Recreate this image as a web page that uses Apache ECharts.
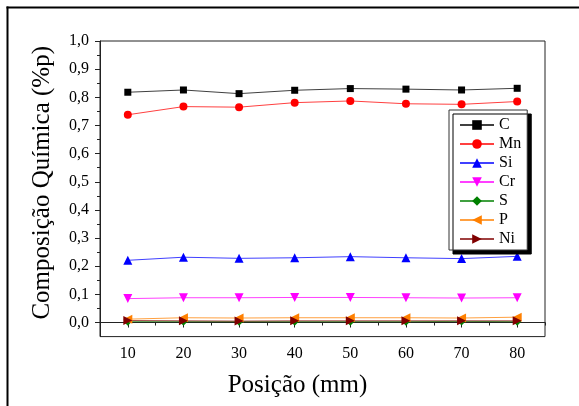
<!DOCTYPE html>
<html>
<head>
<meta charset="utf-8">
<script src="https://cdn.jsdelivr.net/npm/echarts@6/dist/echarts.min.js"></script>
<style>html,body{margin:0;padding:0;background:#fff;}#chart{width:579px;height:406px;}</style>
</head>
<body>
<div id="chart"></div>
<script>
// ---- data ----
const positions = [10, 20, 30, 40, 50, 60, 70, 80];
const C  = [0.818, 0.826, 0.813, 0.825, 0.831, 0.829, 0.826, 0.832];
const Mn = [0.738, 0.767, 0.765, 0.781, 0.787, 0.777, 0.775, 0.785];
const Si = [0.221, 0.232, 0.228, 0.230, 0.234, 0.230, 0.227, 0.235];
const Cr = [0.085, 0.088, 0.088, 0.089, 0.089, 0.088, 0.087, 0.088];
const S  = [0.003, 0.003, 0.003, 0.003, 0.003, 0.003, 0.004, 0.003];
const P  = [0.012, 0.017, 0.016, 0.017, 0.017, 0.017, 0.016, 0.019];
const Ni = [0.007, 0.006, 0.005, 0.006, 0.006, 0.006, 0.006, 0.006];
const seriesNames = ['C', 'Mn', 'Si', 'Cr', 'S', 'P', 'Ni'];
const yTicks = [0.0, 0.1, 0.2, 0.3, 0.4, 0.5, 0.6, 0.7, 0.8, 0.9, 1.0];
const yMinorTicks = [0.05, 0.15, 0.25, 0.35, 0.45, 0.55, 0.65, 0.75, 0.85, 0.95];
const xTicks = [10, 20, 30, 40, 50, 60, 70, 80];
const xMinorTicks = [5, 15, 25, 35, 45, 55, 65, 75, 85];
const xTitle = 'Posição (mm)';
const yTitle = 'Composição Química (%p)';

const FONT = 'Liberation Serif';
const styles = {
  C:  {color: '#000000', symbol: 'rect', size: 7, rotate: 0},
  Mn: {color: '#ff0000', symbol: 'circle', size: 8, rotate: 0},
  Si: {color: '#0000ff', symbol: 'triangle', size: 9, rotate: 0},
  Cr: {color: '#ff00ff', symbol: 'triangle', size: 9, rotate: 180},
  S:  {color: '#008000', symbol: 'diamond', size: 8, rotate: 0},
  P:  {color: '#ff8000', symbol: 'triangle', size: 9, rotate: 90},
  Ni: {color: '#800000', symbol: 'triangle', size: 9, rotate: -90}
};
const values = {C, Mn, Si, Cr, S, P, Ni};

const chart = echarts.init(document.getElementById('chart'), null, {renderer: 'canvas'});

const series = seriesNames.map(n => ({
  name: n,
  type: 'line',
  xAxisIndex: 0,
  yAxisIndex: 0,
  data: positions.map((x, i) => [x, values[n][i]]),
  symbol: styles[n].symbol,
  symbolSize: styles[n].size,
  symbolRotate: styles[n].rotate,
  showAllSymbol: true,
  animation: false,
  lineStyle: {color: styles[n].color, width: 1, opacity: 0.75},
  itemStyle: {color: styles[n].color, borderWidth: 0}
}));

const axisLine = {show: true, lineStyle: {color: '#222', width: 1}};

chart.setOption({
  animation: false,
  backgroundColor: '#fff',
  grid: {left: 100, right: 34, top: 41, bottom: 69.4, show: true, borderColor: '#222', borderWidth: 1, backgroundColor: 'transparent'},
  xAxis: [{
    type: 'value', min: 5, max: 85,
    name: xTitle, nameLocation: 'middle', nameGap: 36,
    nameTextStyle: {fontFamily: FONT, fontSize: 25, color: '#000', padding: [0, 50, 0, 0]},
    axisLine: axisLine,
    axisTick: {show: true, length: 5, customValues: xTicks, lineStyle: {color: '#222'}},
    axisLabel: {customValues: xTicks, fontFamily: FONT, fontSize: 16, color: '#000', margin: 9},
    splitLine: {show: false}
  }, {
    type: 'value', min: 5, max: 85, position: 'bottom',
    axisLine: {show: false},
    axisTick: {show: true, length: 3, customValues: xMinorTicks, lineStyle: {color: '#222'}},
    axisLabel: {show: false},
    splitLine: {show: false}
  }],
  yAxis: [{
    type: 'value', min: -0.05, max: 1.0,
    name: yTitle, nameLocation: 'middle', nameGap: 45,
    nameTextStyle: {fontFamily: FONT, fontSize: 25, color: '#000', padding: [0, 0, 0, 12]},
    axisLine: axisLine,
    axisTick: {show: true, length: 5, customValues: yTicks, lineStyle: {color: '#222'}},
    axisLabel: {customValues: yTicks, fontFamily: FONT, fontSize: 16, color: '#000', margin: 11,
      formatter: v => v.toFixed(1).replace('.', ',')},
    splitLine: {show: false}
  }, {
    type: 'value', min: -0.05, max: 1.0, position: 'left',
    axisLine: {show: false},
    axisTick: {show: true, length: 3, customValues: yMinorTicks, lineStyle: {color: '#222'}},
    axisLabel: {show: false},
    splitLine: {show: false}
  }],
  legend: {
    data: seriesNames,
    orient: 'vertical',
    left: 449, top: 110,
    padding: [7, 6, 3, 10],
    itemGap: 3,
    itemWidth: 34,
    itemHeight: 12,
    backgroundColor: '#fff',
    borderColor: '#333',
    borderWidth: 1,
    shadowColor: '#000',
    shadowBlur: 0,
    shadowOffsetX: 4,
    shadowOffsetY: 4,
    textStyle: {fontFamily: FONT, fontSize: 16, color: '#000'}
  },
  graphic: [
    {type: 'line', shape: {x1: 6.5, y1: 7.5, x2: 579, y2: 7.5}, style: {stroke: '#000', lineWidth: 2}, z: 100},
    {type: 'line', shape: {x1: 7.5, y1: 6.5, x2: 7.5, y2: 406}, style: {stroke: '#000', lineWidth: 2}, z: 100}
  ],
  series: series
});
</script>
</body>
</html>
